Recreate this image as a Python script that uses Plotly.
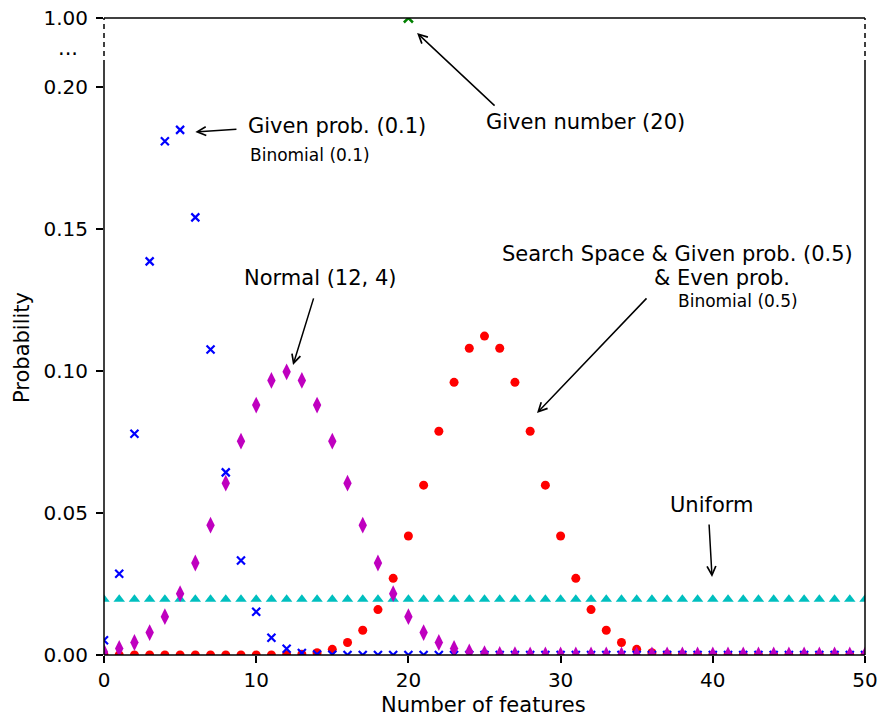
import plotly.graph_objects as go

# ---------------- data ----------------
features = list(range(51))

binomial_01 = [0.0052, 0.0286, 0.0779, 0.1386, 0.1809, 0.1849, 0.1541, 0.1076, 0.0643, 0.0333,
               0.0152, 0.0061, 0.0022, 0.0007, 0.0002, 0.0001, 0.0, 0.0, 0.0, 0.0,
               0.0, 0.0, 0.0, 0.0, 0.0, 0.0, 0.0, 0.0, 0.0, 0.0,
               0.0, 0.0, 0.0, 0.0, 0.0, 0.0, 0.0, 0.0, 0.0, 0.0,
               0.0, 0.0, 0.0, 0.0, 0.0, 0.0, 0.0, 0.0, 0.0, 0.0, 0.0]

binomial_05 = [0.0, 0.0, 0.0, 0.0, 0.0, 0.0, 0.0, 0.0, 0.0, 0.0,
               0.0, 0.0, 0.0001, 0.0003, 0.0008, 0.0020, 0.0044, 0.0087, 0.0160, 0.0270,
               0.0419, 0.0598, 0.0788, 0.0960, 0.1080, 0.1123, 0.1080, 0.0960, 0.0788, 0.0598,
               0.0419, 0.0270, 0.0160, 0.0087, 0.0044, 0.0020, 0.0008, 0.0003, 0.0001, 0.0,
               0.0, 0.0, 0.0, 0.0, 0.0, 0.0, 0.0, 0.0, 0.0, 0.0, 0.0]

normal_12_4 = [0.0011, 0.0023, 0.0044, 0.0079, 0.0135, 0.0216, 0.0324, 0.0457, 0.0605, 0.0753,
               0.0880, 0.0967, 0.0997, 0.0967, 0.0880, 0.0753, 0.0605, 0.0457, 0.0324, 0.0216,
               0.0135, 0.0079, 0.0044, 0.0023, 0.0011, 0.0005, 0.0002, 0.0001, 0.0, 0.0,
               0.0, 0.0, 0.0, 0.0, 0.0, 0.0, 0.0, 0.0, 0.0, 0.0,
               0.0, 0.0, 0.0, 0.0, 0.0, 0.0, 0.0, 0.0, 0.0, 0.0, 0.0]

uniform = [0.0196, 0.0196, 0.0196, 0.0196, 0.0196, 0.0196, 0.0196, 0.0196, 0.0196, 0.0196,
           0.0196, 0.0196, 0.0196, 0.0196, 0.0196, 0.0196, 0.0196, 0.0196, 0.0196, 0.0196,
           0.0196, 0.0196, 0.0196, 0.0196, 0.0196, 0.0196, 0.0196, 0.0196, 0.0196, 0.0196,
           0.0196, 0.0196, 0.0196, 0.0196, 0.0196, 0.0196, 0.0196, 0.0196, 0.0196, 0.0196,
           0.0196, 0.0196, 0.0196, 0.0196, 0.0196, 0.0196, 0.0196, 0.0196, 0.0196, 0.0196, 0.0196]

given_number_x = [20]
given_number_y = [1.0]

x_ticks = [0, 10, 20, 30, 40, 50]
y_ticks = [0.0, 0.05, 0.10, 0.15, 0.20]
y_top_ticks = [1.0]
y_top_ticklabels = ["1.00"]

# ---------------- figure ----------------
FONT = "DejaVu Sans"
BLACK = "#000000"
MAIN_TOP = 0.9262

fig = go.Figure()

fig.add_trace(go.Scatter(x=features, y=binomial_05, mode="markers",
                         marker=dict(symbol="circle", size=9, color="#ff0000", line=dict(width=0)),
                         showlegend=False))
fig.add_trace(go.Scatter(x=features, y=binomial_01, mode="markers",
                         marker=dict(symbol="x-thin", size=8, color="#0000ff",
                                     line=dict(width=2.2, color="#0000ff")),
                         showlegend=False))
fig.add_trace(go.Scatter(x=features, y=uniform, mode="markers",
                         marker=dict(symbol="triangle-up", size=10, color="#00bfbf", line=dict(width=0)),
                         showlegend=False))
fig.add_trace(go.Scatter(x=features, y=normal_12_4, mode="markers",
                         marker=dict(symbol="diamond-tall", size=12, color="#bf00bf", line=dict(width=0)),
                         showlegend=False))
fig.add_trace(go.Scatter(x=given_number_x, y=given_number_y, mode="markers", yaxis="y2",
                         marker=dict(symbol="x-thin", size=9, color="#008000",
                                     line=dict(width=2.5, color="#008000")),
                         showlegend=False))

axis_common = dict(showgrid=False, zeroline=False, showline=False, ticks="outside",
                   ticklen=7, tickwidth=1.5, tickcolor=BLACK, automargin=False,
                   tickfont=dict(family=FONT, size=20, color=BLACK))

fig.update_layout(
    width=879, height=717,
    margin=dict(l=104, r=14, t=18, b=62, autoexpand=False),
    paper_bgcolor="white", plot_bgcolor="white",
    font=dict(family=FONT, color=BLACK),
    xaxis=dict(domain=[0, 1], range=[0, 50], tickvals=x_ticks, anchor="y", **axis_common),
    yaxis=dict(domain=[0, MAIN_TOP], range=[0, 0.20775], tickvals=y_ticks, tickformat=".2f",
               anchor="x", ticklabelstandoff=4, **axis_common),
    yaxis2=dict(domain=[MAIN_TOP, 1], range=[0.9, 1.0], tickvals=y_top_ticks,
                ticktext=y_top_ticklabels, anchor="x", ticklabelstandoff=4, **axis_common),
)

# spines
line_style = dict(color=BLACK, width=1.5)
dash_style = dict(color=BLACK, width=1.5, dash="5px,4px")
shapes = [
    dict(type="line", xref="paper", yref="paper", x0=0, x1=1, y0=0, y1=0, line=line_style),
    dict(type="line", xref="paper", yref="paper", x0=0, x1=1, y0=1, y1=1, line=line_style),
    dict(type="line", xref="paper", yref="paper", x0=0, x1=0, y0=0, y1=MAIN_TOP, line=line_style),
    dict(type="line", xref="paper", yref="paper", x0=1, x1=1, y0=0, y1=MAIN_TOP, line=line_style),
    dict(type="line", xref="paper", yref="paper", x0=0, x1=0, y0=MAIN_TOP, y1=1, line=dash_style),
    dict(type="line", xref="paper", yref="paper", x0=1, x1=1, y0=MAIN_TOP, y1=1, line=dash_style),
]
fig.update_layout(shapes=shapes)

# text labels
def label(text, x, y, size=21, yref="y", xref="x", xanchor="left", **kw):
    return dict(text=text, x=x, y=y, xref=xref, yref=yref, xanchor=xanchor, yanchor="middle",
                showarrow=False, font=dict(family=FONT, size=size, color=BLACK), **kw)

# arrows
def arrow(tail_x, tail_y, tip_x, tip_y, yref="y"):
    return dict(text="", x=tip_x, y=tip_y, ax=tail_x, ay=tail_y, xref="x", yref=yref,
                axref="x", ayref=yref, showarrow=True, arrowhead=5, arrowsize=1.15,
                arrowwidth=1.5, arrowcolor=BLACK, standoff=0, startstandoff=0)

annotations = [
    label("Given prob. (0.1)", 9.33, 0.1863),
    label("Binomial (0.1)", 9.46, 0.1761, size=17),
    label("Given number (20)", 24.97, 0.1877),
    label("Normal (12, 4)", 9.07, 0.1327),
    label("Search Space &amp; Given prob. (0.5)", 26.02, 0.1412),
    label("&amp; Even prob.", 36.0, 0.1327),
    label("Binomial (0.5)", 37.58, 0.1246, size=17),
    label("Uniform", 37.06, 0.0528),
    arrow(8.8, 0.1852, 6.0, 0.1842),
    arrow(13.8, 0.1261, 12.42, 0.1021),
    arrow(35.74, 0.1261, 28.45, 0.0852),
    arrow(39.75, 0.0465, 39.95, 0.0275),
    arrow(25.76, 0.8106, 20.57, 0.968, yref="y2"),
    label("...", -0.047, 0.953, size=21, xref="paper", yref="paper", xanchor="center"),
    label("Probability", -0.1078, 0.4835, size=21, xref="paper", yref="paper",
          xanchor="center", textangle=-90),
    label("Number of features", 0.4993, -0.0785, size=21, xref="paper", yref="paper",
          xanchor="center"),
]
fig.update_layout(annotations=annotations)

fig.write_html("out.html", config={"displayModeBar": False},
               post_script="document.body.style.margin='0';")
